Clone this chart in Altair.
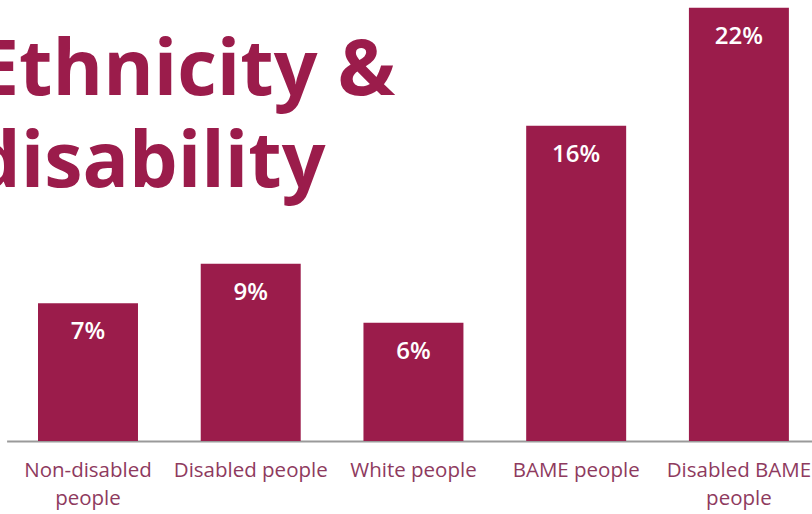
import altair as alt
import pandas as pd

categories = ["Non-disabled people", "Disabled people", "White people", "BAME people", "Disabled BAME people"]
values = [7, 9, 6, 16, 22]
value_labels = ["7%", "9%", "6%", "16%", "22%"]
title_lines = ["Ethnicity &", "disability"]

MAROON = "#9b1c4b"

df = pd.DataFrame({"category": categories, "value": values, "label": value_labels})

x_enc = alt.X(
    "category:N",
    sort=categories,
    scale=alt.Scale(range=[6.6, 820.3], paddingInner=0.3856, paddingOuter=0.193),
    axis=alt.Axis(
        title=None,
        labelAngle=0,
        ticks=False,
        grid=False,
        domainColor="#9a9a9a",
        domainWidth=2,
        labelFont="Open Sans",
        labelFontSize=20.5,
        labelColor="#8e3a5e",
        labelPadding=19,
        labelLineHeight=28,
        labelBaseline="top",
        labelLimit=300,
        labelExpr="datum.label == 'Non-disabled people' ? ['Non-disabled', 'people'] : datum.label == 'Disabled BAME people' ? ['Disabled BAME', 'people'] : datum.label",
    ),
)
y_enc = alt.Y("value:Q", scale=alt.Scale(domain=[0, 22.39], nice=False), axis=None)

bars = alt.Chart(df).mark_bar(color=MAROON).encode(x=x_enc, y=y_enc)

texts = alt.Chart(df).mark_text(
    color="white", font="Open Sans", fontSize=24, fontWeight=600,
    baseline="alphabetic", align="center", dy=36,
).encode(x=alt.X("category:N", sort=categories), y="value:Q", text="label:N")

tdf1 = pd.DataFrame({"t": [title_lines[0]]})
tdf2 = pd.DataFrame({"t": [title_lines[1]]})
title1 = alt.Chart(tdf1).mark_text(
    color=MAROON, font="Open Sans", fontSize=77, fontWeight="bold", align="left", baseline="alphabetic"
).encode(text="t:N", x=alt.value(-24), y=alt.value(95))
title2 = alt.Chart(tdf2).mark_text(
    color=MAROON, font="Open Sans", fontSize=77, fontWeight="bold", align="left", baseline="alphabetic"
).encode(text="t:N", x=alt.value(-28), y=alt.value(187))

chart = alt.layer(bars, texts, title1, title2).properties(
    width=812, height=441,
    padding={"left": 0, "top": 0, "right": 0, "bottom": 73},
    autosize="none",
    background="white",
).configure_view(stroke=None)

chart.save("out.html", embed_options={"renderer": "svg", "actions": False})
